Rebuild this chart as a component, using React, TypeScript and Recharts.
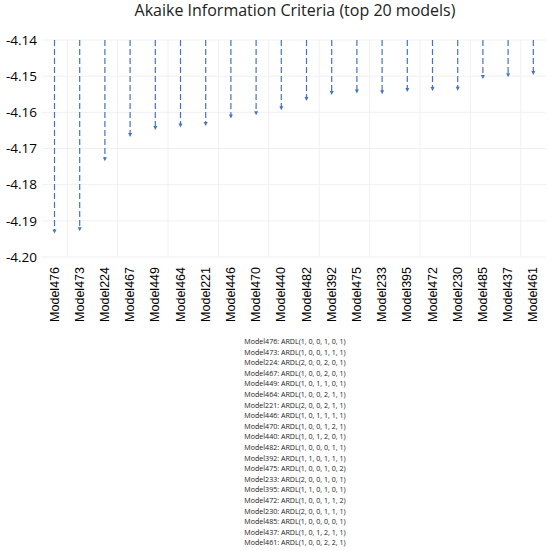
import React from 'react';
import { BarChart, Bar, XAxis, YAxis, CartesianGrid } from 'recharts';

const models = ['Model476','Model473','Model224','Model467','Model449','Model464','Model221','Model446','Model470','Model440','Model482','Model392','Model475','Model233','Model395','Model472','Model230','Model485','Model437','Model461'];
const aicValues = [-4.1935,-4.1929,-4.1735,-4.1668,-4.1649,-4.1642,-4.1638,-4.1617,-4.1608,-4.1594,-4.1569,-4.1552,-4.1548,-4.1550,-4.1544,-4.1541,-4.1540,-4.1508,-4.1503,-4.1497];
const specs = ['ARDL(1, 0, 0, 1, 0, 1)','ARDL(1, 0, 0, 1, 1, 1)','ARDL(2, 0, 0, 2, 0, 1)','ARDL(1, 0, 0, 2, 0, 1)','ARDL(1, 0, 1, 1, 0, 1)','ARDL(1, 0, 0, 2, 1, 1)','ARDL(2, 0, 0, 2, 1, 1)','ARDL(1, 0, 1, 1, 1, 1)','ARDL(1, 0, 0, 1, 2, 1)','ARDL(1, 0, 1, 2, 0, 1)','ARDL(1, 0, 0, 0, 1, 1)','ARDL(1, 1, 0, 1, 1, 1)','ARDL(1, 0, 0, 1, 0, 2)','ARDL(2, 0, 0, 1, 0, 1)','ARDL(1, 1, 0, 1, 0, 1)','ARDL(1, 0, 0, 1, 1, 2)','ARDL(2, 0, 0, 1, 1, 1)','ARDL(1, 0, 0, 0, 0, 1)','ARDL(1, 0, 1, 2, 1, 1)','ARDL(1, 0, 0, 2, 2, 1)'];
const yTicks = [-4.20,-4.19,-4.18,-4.17,-4.16,-4.15,-4.14];

const data = models.map((m, i) => ({ model: m, aic: aicValues[i] }));

const BLUE = '#4472C4';

const ArrowShape = (props: any) => {
  const { x, y, width, height } = props;
  if (x == null || y == null) return null;
  const cx = x + width / 2;
  const top = Math.min(y, y + height);
  const bottom = Math.max(y, y + height);
  return (
    <g>
      <line x1={cx} y1={top} x2={cx} y2={bottom - 3} stroke={BLUE} strokeWidth={1.2} strokeDasharray="6 3" />
      <path d={`M${cx - 2},${bottom - 4} L${cx + 2},${bottom - 4} L${cx},${bottom} Z`} fill={BLUE} />
    </g>
  );
};

const XTick = (props: any) => {
  const { x, y, payload } = props;
  return (
    <text x={x} y={y} transform={`rotate(-90, ${x}, ${y})`} textAnchor="end" dominantBaseline="central" fontFamily="'Liberation Sans', Arial, sans-serif" fontSize={12.5} fill="#000">
      {payload.value}
    </text>
  );
};

export default function App() {
  return (
    <div style={{ position: 'absolute', left: 0, top: 0, width: 550, height: 551, background: '#fff' }}>
      <div style={{ position: 'absolute', left: 0, top: 0, width: 590, textAlign: 'center', fontFamily: "'Open Sans', sans-serif", fontSize: 16, lineHeight: '21px', color: '#222' }}>
        Akaike Information Criteria (top 20 models)
      </div>
      <div style={{ position: 'absolute', left: 0, top: 0 }}>
        <BarChart width={550} height={330} data={data} margin={{ top: 40, right: 4, bottom: 0, left: 0 }} barCategoryGap={0}>
          <CartesianGrid
            stroke="#f0f0f0"
            verticalCoordinatesGenerator={(p: any) => {
              const off = p.offset;
              const band = off.width / models.length;
              const out: number[] = [];
              for (let k = 1; k < models.length; k += 2) out.push(off.left + k * band);
              return out;
            }}
          />
          <XAxis dataKey="model" interval={0} axisLine={false} tickLine={false} height={73} tick={<XTick />} tickMargin={4} />
          <YAxis type="number" domain={[-4.20, -4.14]} ticks={yTicks} width={42} axisLine={false} tickLine={false} tickSize={0} tickMargin={5} tickFormatter={(v: number) => v.toFixed(2)} tick={{ fontFamily: "'Open Sans', sans-serif", fontSize: 13.5, fill: '#000' }} />
          <Bar dataKey="aic" shape={<ArrowShape />} isAnimationActive={false} />
        </BarChart>
      </div>
      <div style={{ position: 'absolute', left: 195, top: 336, width: 200, textAlign: 'center', fontFamily: "'Open Sans', sans-serif", fontSize: 7.1, lineHeight: '10.6px', color: '#1a1a1a' }}>
        {models.map((m, i) => (
          <div key={m}>{m}: {specs[i]}</div>
        ))}
      </div>
    </div>
  );
}
